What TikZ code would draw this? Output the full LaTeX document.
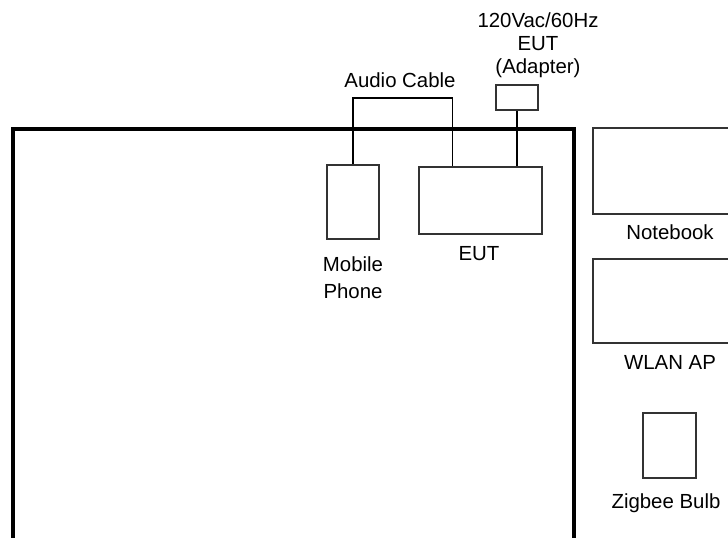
\documentclass[tikz,border=0pt]{standalone}
\usepackage{fontspec}
\setmainfont{Liberation Sans}
\usetikzlibrary{calc}
\tikzset{
  dev/.style={draw=black!80,line width=1pt,fill=white,inner sep=0pt},
  txt/.style={inner sep=0pt,align=center,font=\fontsize{10.2pt}{13.5pt}\selectfont},
  cable/.style={line width=0.75pt},
  tablee/.style={line width=2pt}
}
\begin{document}
\begin{tikzpicture}[x=0.5pt,y=-0.5pt]
  \useasboundingbox (0,0) rectangle (728,537);
  \clip (0,0) rectangle (728,537);

  % table
  \draw[tablee] (13,560) |- (574,129) -- (574,560);

  \node[dev,minimum width=26pt,minimum height=37pt] (phone) at (353,202) {};
  \node[txt] (phonelbl) at (353,278) {Mobile\\Phone};
  \node[dev,minimum width=61.5pt,minimum height=33.5pt] (eut) at (480.5,200.5) {};
  \node[txt] (eutlbl) at (479,254) {EUT};

  \node[dev,minimum width=21pt,minimum height=12.5pt] (adp) at (517,97.5) {};
  \node[txt,font=\fontsize{10.2pt}{11.5pt}\selectfont] (adplbl) at (538,45) {120Vac/60Hz\\EUT\\(Adapter)};
  \draw[cable] (adp.south) -- (adp.south |- eut.north);

  \coordinate (ac) at (400,98);
  \node[txt] (aclbl) at (400,80) {Audio Cable};
  \draw[cable] (phone.north) |- (ac) -| ($(eut.north west)!0.276!(eut.north east)$);

  \node[dev,minimum width=83.5pt,minimum height=43pt] (nb) at (676.5,171) {};
  \node[txt] (nblbl) at (670,232) {Notebook};
  \node[dev,minimum width=83.5pt,minimum height=42pt] (ap) at (676.5,301) {};
  \node[txt] (aplbl) at (670,362) {WLAN AP};
  \node[dev,minimum width=26.5pt,minimum height=32.5pt] (bulb) at (669.5,445.5) {};
  \node[txt] (bulblbl) at (666,503) {Zigbee Bulb};
\end{tikzpicture}
\end{document}
